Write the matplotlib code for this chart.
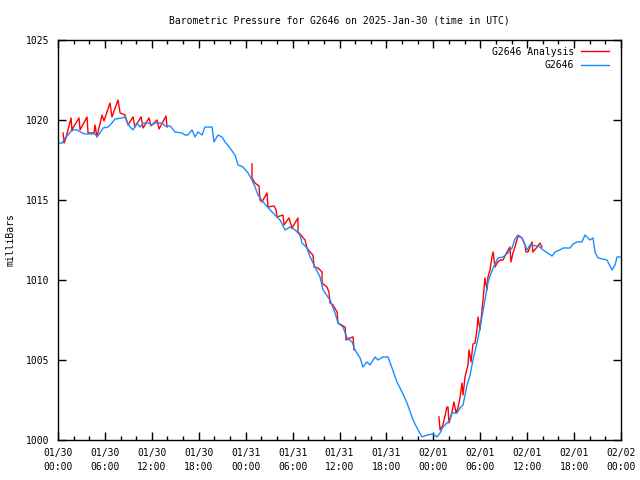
import matplotlib
matplotlib.use("Agg")
import matplotlib.pyplot as plt
import numpy as np

# Hours since 2025-01-30 00:00 UTC
obs_hours = [0.00, 0.51, 0.90, 1.28, 1.79, 2.43, 3.08, 3.45, 4.73, 5.00, 5.37, 5.76, 6.39, 6.90, 7.29,
             8.19, 8.57, 8.82, 9.21, 9.59, 10.11, 10.49, 10.88, 11.51, 12.02, 12.41, 13.31, 13.68, 14.33,
             14.97, 15.86, 16.25, 16.62, 17.13, 17.52, 17.91, 18.42, 18.80, 19.70, 19.95, 20.46, 20.97,
             21.36, 21.99, 22.64, 23.03, 23.66, 24.30, 24.81, 25.20, 25.58, 26.22, 27.12, 27.75, 28.40,
             29.03, 29.67, 30.32, 30.95, 31.20, 31.85, 32.24, 32.87, 33.51, 33.89, 34.79, 35.43, 35.81,
             36.45, 36.96, 37.61, 37.98, 38.63, 39.00, 39.51, 39.90, 40.55, 40.92, 41.57, 42.20, 42.72,
             43.35, 44.00, 44.64, 45.41, 46.04, 46.55, 47.19, 47.96, 48.47, 48.86, 49.23, 50.13, 50.39,
             51.03, 51.41, 51.80, 52.31, 52.70, 53.07, 53.58, 53.97, 54.60, 54.99, 55.64, 56.27, 56.91,
             57.56, 58.07, 58.44, 58.83, 59.34, 59.73, 59.99, 60.36, 61.26, 61.64, 62.03, 63.18, 63.56,
             64.20, 64.58, 65.48, 65.87, 66.38, 67.01, 67.40, 68.04, 68.42, 68.67, 69.06, 70.20, 70.85,
             71.24, 71.49, 71.88]
obs_mb = [1018.56, 1018.56, 1018.88, 1019.06, 1019.38, 1019.38, 1019.19, 1019.13, 1019.13, 1018.94,
          1019.19, 1019.50, 1019.56, 1019.81, 1020.06, 1020.13, 1020.19, 1019.88, 1019.56, 1019.38,
          1019.81, 1019.56, 1019.81, 1019.81, 1019.69, 1019.81, 1019.81, 1019.63, 1019.63, 1019.25,
          1019.19, 1019.06, 1019.06, 1019.38, 1018.94, 1019.25, 1019.06, 1019.56, 1019.56, 1018.63,
          1019.06, 1018.94, 1018.63, 1018.25, 1017.81, 1017.19, 1017.06, 1016.69, 1016.25, 1015.81,
          1015.31, 1014.88, 1014.38, 1014.06, 1013.75, 1013.13, 1013.31, 1013.13, 1012.81, 1012.31,
          1012.00, 1011.44, 1010.81, 1010.19, 1009.38, 1008.75, 1007.94, 1007.31, 1007.06, 1006.38,
          1006.13, 1005.63, 1005.13, 1004.56, 1004.88, 1004.69, 1005.19, 1005.00, 1005.19, 1005.19,
          1004.50, 1003.63, 1003.00, 1002.31, 1001.25, 1000.63, 1000.19, 1000.31, 1000.38, 1000.19,
          1000.44, 1000.81, 1001.25, 1001.69, 1001.69, 1002.00, 1002.19, 1003.44, 1004.06, 1005.00,
          1006.06, 1007.00, 1008.75, 1009.88, 1010.75, 1011.38, 1011.44, 1011.69, 1012.00, 1012.56,
          1012.81, 1012.63, 1012.19, 1011.88, 1012.19, 1012.13, 1012.06, 1011.88, 1011.50, 1011.75,
          1011.88, 1012.00, 1012.00, 1012.25, 1012.38, 1012.38, 1012.81, 1012.50, 1012.63, 1011.75,
          1011.38, 1011.25, 1010.63, 1010.94, 1011.44, 1011.44]

ana1_hours = [0.65, 0.77, 1.02, 1.67, 1.79, 1.92, 2.69, 2.82, 3.71, 3.84, 4.61, 4.73, 4.98, 5.63, 5.88,
              6.65, 6.90, 7.68, 7.94, 8.57, 8.96, 9.59, 9.84, 10.62, 10.88, 11.64, 11.90, 12.66, 12.92,
              13.82, 13.94]
ana1_mb = [1019.19, 1018.56, 1018.88, 1020.13, 1019.31, 1019.50, 1020.13, 1019.38, 1020.19, 1019.19,
           1019.19, 1019.69, 1018.94, 1020.31, 1019.94, 1021.06, 1020.19, 1021.25, 1020.44, 1020.31,
           1019.69, 1020.19, 1019.56, 1020.19, 1019.50, 1020.13, 1019.63, 1020.00, 1019.44, 1020.25, 1019.56]

ana2_hours = [24.81, 24.81, 25.19, 25.71, 25.83, 26.09, 26.73, 26.85, 27.62, 27.89, 28.01, 28.77, 28.91,
              29.54, 29.93, 30.69, 30.69, 30.95, 31.59, 31.85, 32.22, 32.61, 32.75, 33.26, 33.77, 33.77,
              34.40, 34.65, 34.79, 35.16, 35.69, 35.81, 36.71, 36.83, 37.34, 37.73, 37.86]
ana2_mb = [1017.25, 1016.38, 1016.06, 1015.88, 1015.00, 1014.88, 1015.44, 1014.56, 1014.63, 1014.38,
           1013.94, 1014.06, 1013.44, 1013.88, 1013.25, 1013.88, 1013.00, 1012.88, 1012.50, 1012.00,
           1011.75, 1011.56, 1010.81, 1010.75, 1010.50, 1009.81, 1009.56, 1009.25, 1008.56, 1008.44,
           1008.00, 1007.31, 1007.06, 1006.25, 1006.38, 1006.44, 1005.63]

ana3_hours = [48.72, 48.86, 49.23, 49.74, 49.88, 50.00, 50.39, 50.64, 50.90, 51.15, 51.41, 51.66, 51.80,
              52.05, 52.43, 52.56, 52.82, 53.07, 53.33, 53.58, 53.72, 53.97, 54.35, 54.60, 54.86, 54.99,
              55.25, 55.50, 55.64, 55.89, 56.15, 56.52, 56.91, 57.42, 57.80, 57.93, 58.19, 58.44, 58.83,
              59.34, 59.72, 59.85, 60.11, 60.62, 60.74, 61.26, 61.64, 61.89]
ana3_mb = [1001.44, 1000.63, 1000.94, 1002.06, 1002.06, 1001.06, 1001.75, 1002.38, 1001.69, 1002.00,
           1002.63, 1003.56, 1002.81, 1003.94, 1004.69, 1005.63, 1004.88, 1006.00, 1006.06, 1006.88,
           1007.69, 1006.88, 1008.75, 1010.13, 1009.38, 1010.19, 1010.63, 1011.44, 1011.75, 1010.81,
           1011.06, 1011.25, 1011.25, 1011.75, 1012.06, 1011.13, 1011.69, 1012.06, 1012.75, 1012.63,
           1012.19, 1011.75, 1011.75, 1012.38, 1011.75, 1012.06, 1012.31, 1012.06]

xtick_hours = [0, 6, 12, 18, 24, 30, 36, 42, 48, 54, 60, 66, 72]
xtick_labels = ["01/30\n00:00", "01/30\n06:00", "01/30\n12:00", "01/30\n18:00",
                "01/31\n00:00", "01/31\n06:00", "01/31\n12:00", "01/31\n18:00",
                "02/01\n00:00", "02/01\n06:00", "02/01\n12:00", "02/01\n18:00", "02/02\n00:00"]
ytick_vals = [1000, 1005, 1010, 1015, 1020, 1025]

plt.rcParams['font.family'] = ['DejaVu Sans Mono']
fs = 7

fig = plt.figure(figsize=(6.4, 4.8), dpi=100)
ax = fig.add_axes([58/640, 40/480, (621-58)/640, (440-40)/480])

red = '#ff0000'
blue = '#1a8cff'
ax.plot(ana1_hours, ana1_mb, color=red, lw=1.0, label='G2646 Analysis')
ax.plot(ana2_hours, ana2_mb, color=red, lw=1.0)
ax.plot(ana3_hours, ana3_mb, color=red, lw=1.0)
ax.plot(obs_hours, obs_mb, color=blue, lw=1.0, label='G2646')

ax.set_xlim(0, 72)
ax.set_ylim(1000, 1025)
ax.set_xticks(xtick_hours)
ax.set_xticklabels(xtick_labels, fontsize=fs, linespacing=1.45)
ax.set_xticks(np.arange(0, 73, 2), minor=True)
ax.set_yticks(ytick_vals)
ax.set_yticklabels([str(v) for v in ytick_vals], fontsize=fs)
ax.tick_params(axis='both', which='major', direction='in', length=6, width=1,
               top=True, right=True, pad=6)
ax.tick_params(axis='x', which='minor', direction='in', length=3, width=1, top=True)
for s in ax.spines.values():
    s.set_linewidth(1.0)

ax.set_ylabel('milliBars', fontsize=fs, labelpad=8)
ax.set_title('Barometric Pressure for G2646 on 2025-Jan-30 (time in UTC)', fontsize=fs, pad=12)

leg = ax.legend(loc='upper right', fontsize=fs, frameon=False, markerfirst=False,
                handlelength=2.9, handletextpad=0.7, labelspacing=0.35,
                borderaxespad=0.8, bbox_to_anchor=(1.0, 1.012))
for t in leg.get_texts():
    t.set_ha('right')

fig.savefig('out.png', dpi=100)
